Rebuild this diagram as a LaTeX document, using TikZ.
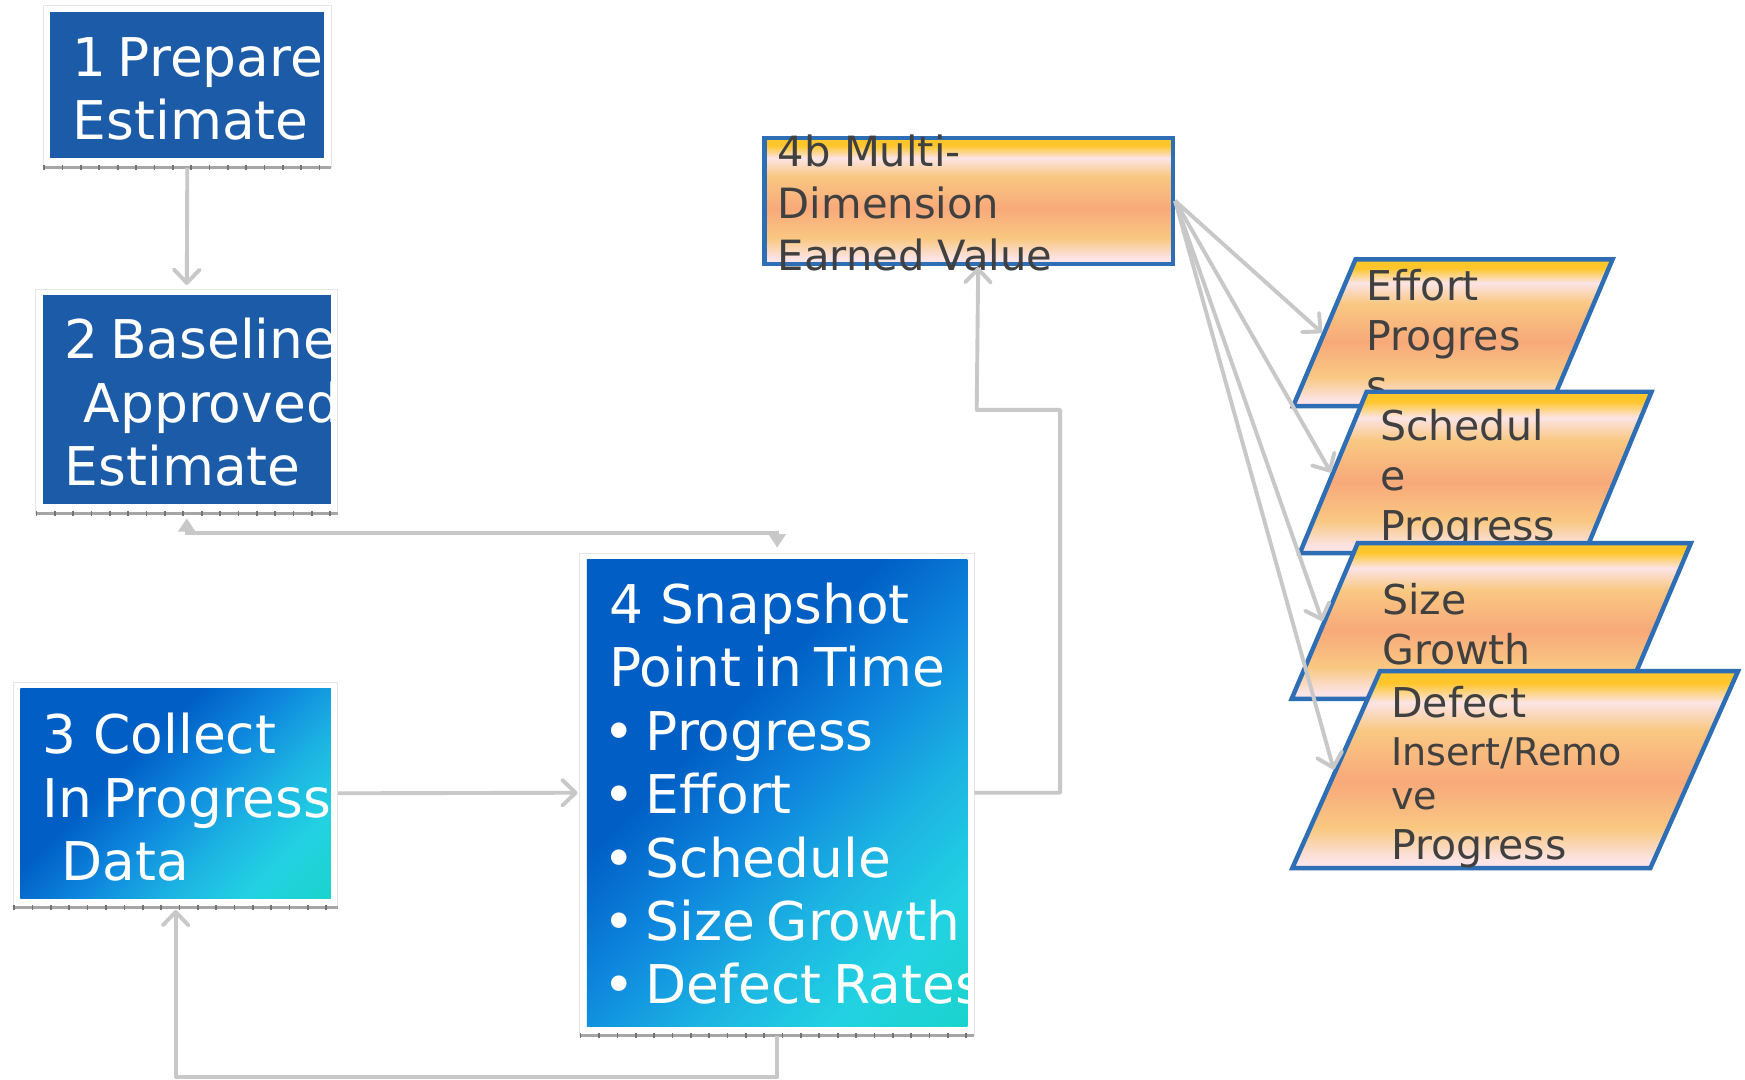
\documentclass[tikz,border=0pt]{standalone}
\usepackage{fontspec}
\usepackage{tikz}
\usetikzlibrary{arrows.meta}
\usetikzlibrary{positioning,shapes.geometric}
\newfontfamily\diagfont{DejaVu Sans}
\usepackage{xcolor}
\definecolor{boxblue}{RGB}{28,91,167}
\definecolor{deepb}{RGB}{0,94,196}
\definecolor{midb}{RGB}{14,135,222}
\definecolor{lightb}{RGB}{28,180,226}
\definecolor{cyanb}{RGB}{34,210,226}
\definecolor{greenb}{RGB}{16,212,176}
\definecolor{yellowt}{RGB}{255,198,44}
\definecolor{pinkw}{RGB}{252,228,230}
\definecolor{lightor}{RGB}{249,200,130}
\definecolor{salmon}{RGB}{248,169,122}
\definecolor{edgeblue}{RGB}{46,110,181}
\definecolor{inkgrey}{RGB}{64,64,64}
\definecolor{linegrey}{RGB}{200,200,200}
\pgfdeclareverticalshading{orangeband}{100bp}{color(0bp)=(pinkw); color(27bp)=(pinkw); color(35bp)=(lightor); color(47bp)=(salmon); color(60bp)=(lightor); color(67bp)=(pinkw); color(72bp)=(yellowt); color(100bp)=(yellowt)}
\pgfdeclareverticalshading{bluesweep}{100bp}{color(0bp)=(greenb); color(26bp)=(cyanb); color(37bp)=(lightb); color(49bp)=(midb); color(61bp)=(deepb); color(100bp)=(deepb)}
\newcommand{\bul}{\makebox[0.66cm][l]{\hspace*{-0.1cm}\textbullet}}
\newcommand{\nohyph}{\hyphenpenalty=10000\relax\exhyphenpenalty=10000\relax}
\tikzset{
    bluebox/.style={
        rectangle,
        fill=boxblue,
        text=white,
        anchor=north west,
        inner ysep=0pt,
        inner xsep=0.4cm,
        align=flush left,
        font=\diagfont\fontsize{27.3pt}{32.4pt}\selectfont\nohyph
    },
    sweepbox/.style={
        bluebox,
        fill=none,
        shade,
        shading=bluesweep,
        shading angle=45
    },
    evbox/.style={
        rectangle,
        shade,
        shading=orangeband,
        draw=edgeblue,
        line width=0.08cm,
        text=inkgrey,
        anchor=north west,
        inner ysep=0pt,
        inner xsep=0.24cm,
        align=flush left,
        font=\diagfont\fontsize{21.3pt}{26.5pt}\selectfont\nohyph
    },
    databox/.style={
        trapezium,
        trapezium left angle=67,
        trapezium right angle=113,
        shade,
        shading=orangeband,
        draw=edgeblue,
        line width=0.08cm,
        text=inkgrey,
        inner ysep=0pt,
        align=flush left,
        font=\diagfont\fontsize{21pt}{25.6pt}\selectfont\nohyph
    },
    frameline/.style={draw=black!10, line width=0.02cm},
    tickline/.style={draw=black!35, line width=0.05cm,
        postaction={draw=black!55, line width=0.09cm, dash pattern=on 0.03cm off 0.3cm}},
    conn/.style={
        draw=linegrey,
        line width=0.07cm,
        line join=round,
        -{Straight Barb[length=0.24cm, width=0.46cm, round]}
    },
    twoway/.style={
        draw=linegrey,
        line width=0.07cm,
        {Triangle[length=0.24cm, width=0.3cm]}-{Triangle[length=0.24cm, width=0.3cm]}
    }
}

\begin{document}
\begin{tikzpicture}[x=0.02cm, y=-0.02cm]
    \path[use as bounding box, fill=white] (0,0) rectangle (1568,970);

    % Process boxes
    \node[bluebox, text width=4.12cm, text height=1.16cm, text depth=1.48cm] (b1) at (45,10) {1~Prepare\\Estimate};
    \node[bluebox, text width=4.38cm, text height=1.14cm, text depth=2.62cm] (b2) at (38,265) {2~Baseline\\\hspace*{0.34cm}Approved\\Estimate};
    \node[sweepbox, text width=4.78cm, text height=1.18cm, text depth=2.6cm] (b3) at (18,618) {3~Collect\\In~Progress\\\hspace*{0.34cm}Data};
    \node[sweepbox, text width=6.04cm, text height=1.16cm, text depth=7.24cm] (b4) at (527,502) {4~Snapshot\\Point~in~Time\\\bul Progress\\\bul Effort\\\bul Schedule\\\bul Size~Growth\\\bul Defect~Rates};
    \node[evbox, text width=6.86cm, text height=0.52cm, text depth=1.74cm] (ev) at (685,122) {4b~Multi-\\Dimension\\Earned~Value};

    % Frames under the blue boxes
    \foreach \b in {b1,b2,b3,b4}{
        \draw[frameline] ([shift={(-6,-5)}]\b.north west) rectangle ([shift={(6,8)}]\b.south east);
        \draw[tickline] ([shift={(-6,8)}]\b.south west) -- ([shift={(6,8)}]\b.south east);
    }

    % Earned value dimensions
    \node[databox, text width=3.1cm, inner xsep=0.2cm, text height=0.74cm, text depth=1.9cm] (p1) at (1305.5,299) {Effort\\Progres\\s};
    \node[databox, text width=3.44cm, inner xsep=0.24cm, text height=0.88cm, text depth=2.02cm,
        trapezium left angle=67.5, trapezium right angle=112.5] (p2) at (1326,424.5) {Schedul\\e\\Progress};
    \node[databox, text width=3.92cm, inner xsep=0.44cm, text height=1.28cm, text depth=1.52cm] (p3) at (1340,558) {Size\\Growth};
    \node[databox, text width=4.46cm, inner xsep=0.2cm, text height=0.84cm, text depth=2.7cm,
        trapezium left angle=66, trapezium right angle=114] (p4) at (1361.5,691.5)
        {Defect\\[-0.04cm]{\fontsize{19.5pt}{25.6pt}\selectfont Insert/Remo}\\[-0.12cm]{\fontsize{19.5pt}{25.6pt}\selectfont ve}\\Progress};

    % Connectors
    \draw[conn, shorten <=0.16cm, shorten >=0.18cm] (b1.south) -- (b2.north);
    \draw[twoway, shorten <=0.24cm, shorten >=0.2cm] (b2.south) -- ++(0,25) -| (b4.north);
    \draw[conn, shorten <=0.12cm, shorten >=0.16cm] (b3.east) -- (b4.west);
    \draw[conn, shorten <=0.16cm, shorten >=0.2cm] (b4.south) -- ++(0,45) -| (b3.south);
    \draw[conn, shorten <=0.12cm, shorten >=0.02cm] (b4.east) -- ++(83,0) |- ++(-75,-344) -- ([xshift=0.17cm]ev.south);
    \foreach \p in {p1,p2,p3,p4}
        \draw[conn] (ev.east) -- (\p.west);
\end{tikzpicture}
\end{document}
